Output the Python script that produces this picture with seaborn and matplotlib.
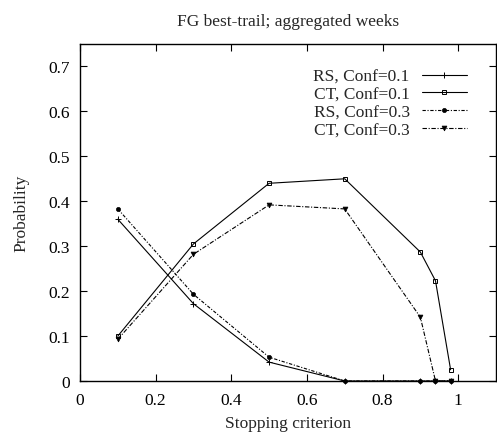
import matplotlib
matplotlib.use("Agg")
import matplotlib.pyplot as plt
import seaborn as sns
import pandas as pd

x = [0.1, 0.3, 0.5, 0.7, 0.9, 0.94, 0.98]
rs_01 = [0.36, 0.172, 0.042, 0.0, 0.0, 0.0, 0.0]
ct_01 = [0.100, 0.305, 0.440, 0.450, 0.287, 0.223, 0.025]
rs_03 = [0.383, 0.193, 0.053, 0.0, 0.0, 0.0, 0.0]
ct_03 = [0.093, 0.282, 0.392, 0.383, 0.142, 0.0, 0.0]
labels = ["RS, Conf=0.1", "CT, Conf=0.1", "RS, Conf=0.3", "CT, Conf=0.3"]

sns.set_style("ticks")
plt.rcParams['font.family'] = ['Liberation Serif', 'DejaVu Serif']

FS = 12.5
fig = plt.figure(figsize=(4.97, 4.35), dpi=100)
ax = fig.add_axes([80/497, 53/435, 416/497, 337/435])

styles = [
    dict(marker='+', ls='-', ms=5, mfc='black', mew=0.7),
    dict(marker='s', ls='-', ms=3.5, mfc='none', mew=0.7),
    dict(marker='o', ls=(0, (3, 1.5, 1, 1.5)), ms=3, mfc='black', mew=0.5),
    dict(marker='v', ls=(0, (4, 1.5, 1, 1.5)), ms=3.5, mfc='black', mew=0.5),
]
for ys, lab, st in zip([rs_01, ct_01, rs_03, ct_03], labels, styles):
    df = pd.DataFrame({"x": x, "y": ys})
    sns.lineplot(data=df, x="x", y="y", ax=ax, color='black', lw=0.8,
                 marker=st['marker'], linestyle=st['ls'], markersize=st['ms'],
                 markerfacecolor=st['mfc'], markeredgecolor='black',
                 markeredgewidth=st['mew'], label=lab, clip_on=False)

ax.set_xlim(0, 1.1)
ax.set_ylim(0, 0.75)
ax.set_xticks([0, 0.2, 0.4, 0.6, 0.8, 1.0])
ax.set_xticklabels(["0", "0.2", "0.4", "0.6", "0.8", "1"])
ax.set_yticks([0, 0.1, 0.2, 0.3, 0.4, 0.5, 0.6, 0.7])
ax.set_yticklabels(["0", "0.1", "0.2", "0.3", "0.4", "0.5", "0.6", "0.7"])
ax.tick_params(direction='in', top=True, right=True, length=5, width=0.8,
               labelsize=FS, colors='black')
ax.tick_params(axis='x', pad=8)
ax.tick_params(axis='y', pad=7)
for s in ax.spines.values():
    s.set_linewidth(1.0)
    s.set_color('black')
ax.set_xlabel("Stopping criterion", fontsize=FS, labelpad=5)
ax.set_ylabel("Probability", fontsize=FS, labelpad=14)
ax.set_title("FG best-trail; aggregated weeks", fontsize=FS, pad=14)

ax.legend(loc='upper right', bbox_to_anchor=(0.947, 0.948), frameon=False,
          markerfirst=False, fontsize=FS, handlelength=2.6, handletextpad=0.7,
          labelspacing=0.1, borderaxespad=0)

fig.savefig("out.png", dpi=100)
